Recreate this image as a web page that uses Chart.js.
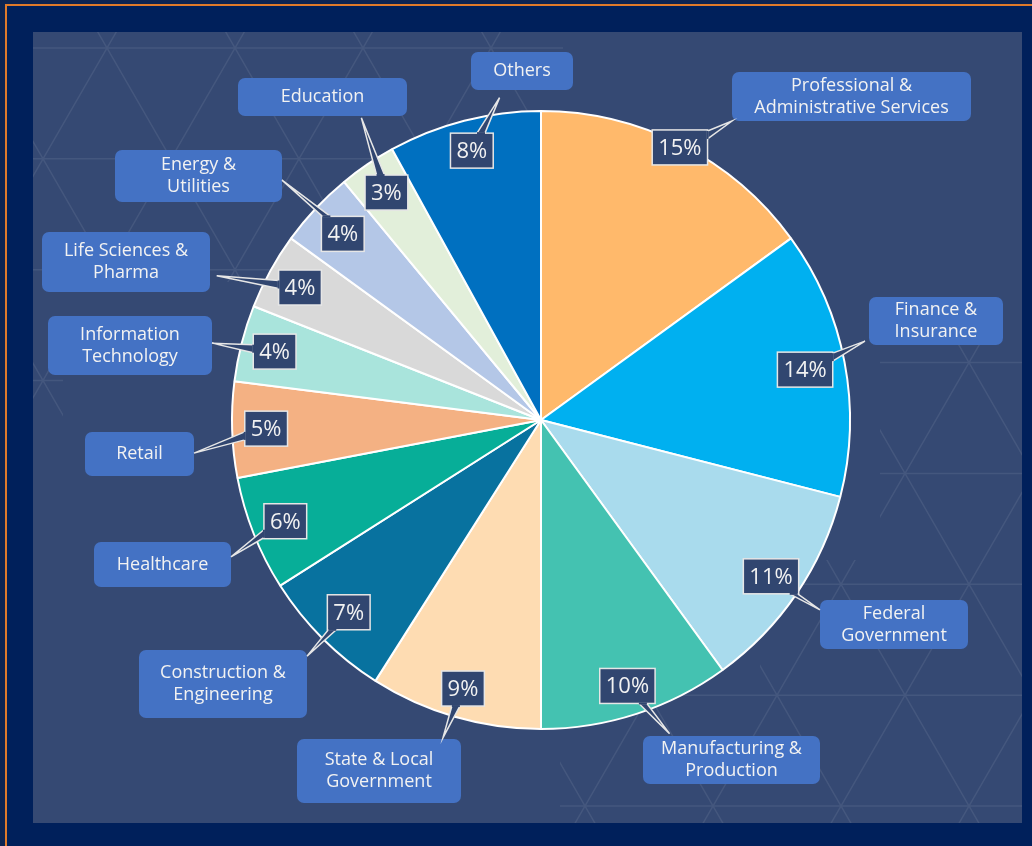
<!DOCTYPE html>
<html>
<head>
<meta charset="utf-8">
<script src="https://cdn.jsdelivr.net/npm/chart.js@4.4.1/dist/chart.umd.min.js"></script>
<style>
  html, body { margin: 0; padding: 0; background: #00205b; overflow: hidden; }
  #sectorChart { display: block; }
</style>
</head>
<body>
<canvas id="sectorChart" width="1032" height="846"></canvas>
<script>
const categories = [
  ["Professional &", "Administrative Services"],
  ["Finance &", "Insurance"],
  ["Federal", "Government"],
  ["Manufacturing &", "Production"],
  ["State & Local", "Government"],
  ["Construction &", "Engineering"],
  ["Healthcare"],
  ["Retail"],
  ["Information", "Technology"],
  ["Life Sciences &", "Pharma"],
  ["Energy &", "Utilities"],
  ["Education"],
  ["Others"],
];
const shares = [15, 14, 11, 10, 9, 7, 6, 5, 4, 4, 4, 3, 8];
const sliceColors = [
  "#ffb96b", "#00b0f0", "#a9dbed", "#44c2b1", "#fedcb2", "#08729f", "#07ae98",
  "#f4b183", "#a9e4dc", "#d9d9d9", "#b4c7e7", "#e2efda", "#0070c0",
];

// category boxes: centre offset from the pie centre, then width and height
const labelBoxes = [
  [310.5, -323.5, 239, 49],
  [395, -99, 134, 48],
  [353, 204.5, 148, 49],
  [190.5, 340, 177, 48],
  [-162, 351, 164, 64],
  [-318, 264, 168, 68],
  [-378.5, 144.5, 137, 45],
  [-401.5, 34, 109, 44],
  [-411, -74.5, 164, 59],
  [-415, -158, 168, 60],
  [-342.5, -244, 167, 52],
  [-218.5, -323, 169, 38],
  [-19, -349, 102, 38],
];
// where each pointer ends on its category box (fractions of box width / height)
const pointerTips = [
  [0, 1], [-0.03, 0.92], [0, 0.2], [0.15, -0.05], [0.89, -0.02], [1, 0.09], [1, 0.33],
  [1, 0.48], [1, 0.46], [1.04, 0.73], [1, 0.58], [0.73, 1.05], [0.28, 1.2],
];
// where the % box sits along each slice's middle, as a fraction of the radius
const valueRadius = [0.99, 0.87, 0.9, 0.905, 0.905, 0.88, 0.89, 0.89, 0.89, 0.89, 0.88, 0.89, 0.9];

const FONT = "'Open Sans', 'Noto Sans', sans-serif";

function roundRect(ctx, x, y, w, h, r) {
  ctx.beginPath();
  ctx.moveTo(x + r, y);
  ctx.arcTo(x + w, y, x + w, y + h, r);
  ctx.arcTo(x + w, y + h, x, y + h, r);
  ctx.arcTo(x, y + h, x, y, r);
  ctx.arcTo(x, y, x + w, y, r);
  ctx.closePath();
}

// faint triangle grid, clipped to a few patches of the panel
function drawLattice(ctx, x0, y0, side, rects) {
  const h = side * Math.sqrt(3) / 2;
  const k = 1 / Math.sqrt(3);
  ctx.save();
  ctx.beginPath();
  rects.forEach(([x, y, w, hh]) => ctx.rect(x, y, w, hh));
  ctx.clip();
  ctx.strokeStyle = "rgba(255,255,255,0.08)";
  ctx.lineWidth = 1.5;
  ctx.beginPath();
  for (let n = -10; n <= 10; n++) {
    const y = y0 + n * h;
    ctx.moveTo(0, y); ctx.lineTo(1032, y);
  }
  for (let m = -20; m <= 20; m++) {
    const c = x0 + m * side;
    // lines going down-right and down-left through row y0 vertices
    ctx.moveTo(c + (0 - y0) * k, 0); ctx.lineTo(c + (846 - y0) * k, 846);
    ctx.moveTo(c - (0 - y0) * k, 0); ctx.lineTo(c - (846 - y0) * k, 846);
  }
  ctx.stroke();
  ctx.restore();
}

const panelBackground = {
  id: "panelBackground",
  beforeDraw(chart) {
    const ctx = chart.ctx;
    ctx.save();
    ctx.fillStyle = "#00205b";
    ctx.fillRect(0, 0, 1032, 846);
    ctx.fillStyle = "#0d2452";
    ctx.fillRect(0, 0, 5, 846);
    ctx.fillRect(0, 0, 1032, 4);
    ctx.fillStyle = "#e07a2a";
    ctx.fillRect(5, 4, 2, 842);
    ctx.fillRect(5, 4, 1027, 2);
    ctx.fillStyle = "#354973";
    ctx.fillRect(33, 32, 989, 791);
    drawLattice(ctx, 107, 48, 128, [[33, 32, 530, 250], [33, 32, 30, 390]]);
    drawLattice(ctx, 713, 806, 128, [[760, 560, 262, 263], [880, 340, 142, 483], [560, 690, 462, 133]]);
    ctx.restore();
  },
};

const callouts = {
  id: "callouts",
  afterDatasetsDraw(chart) {
    const ctx = chart.ctx;
    const arcs = chart.getDatasetMeta(0).data;
    ctx.save();
    arcs.forEach((arc, i) => {
      const p = arc.getProps(["x", "y", "startAngle", "endAngle", "outerRadius"], true);
      const mid = (p.startAngle + p.endAngle) / 2;
      const r = p.outerRadius * valueRadius[i];
      const vx = p.x + Math.cos(mid) * r;
      const vy = p.y + Math.sin(mid) * r;

      // category box
      const [dx, dy, lw, lh] = labelBoxes[i];
      const lx = p.x + dx - lw / 2;
      const ly = p.y + dy - lh / 2;
      roundRect(ctx, lx, ly, lw, lh, 7);
      ctx.fillStyle = "#4472c4";
      ctx.fill();
      ctx.fillStyle = "#f2f2f2";
      ctx.font = "18px " + FONT;
      ctx.textAlign = "center";
      ctx.textBaseline = "middle";
      const lines = categories[i];
      const lineH = 22;
      lines.forEach((t, j) => {
        ctx.fillText(t, lx + lw / 2, ly + lh / 2 + (j - (lines.length - 1) / 2) * lineH);
      });

      // % box
      const text = shares[i] + "%";
      ctx.font = "22px " + FONT;
      const bw = ctx.measureText(text).width + 12;
      const bh = 35;
      const bx = vx - bw / 2;
      const by = vy - bh / 2;

      // pointer from the % box out to the category box
      const tx = lx + lw * pointerTips[i][0];
      const ty = ly + lh * pointerTips[i][1];
      const ux = tx - vx, uy = ty - vy;
      const sx = Math.abs(ux) > 0 ? (bw / 2) / Math.abs(ux) : Infinity;
      const sy = Math.abs(uy) > 0 ? (bh / 2) / Math.abs(uy) : Infinity;
      const s = Math.min(sx, sy);
      const ex = vx + ux * s, ey = vy + uy * s;
      let b1, b2;
      if (sx < sy) {
        const yy = Math.min(Math.max(ey, by + 5), by + bh - 5);
        b1 = [ex, yy - 4]; b2 = [ex, yy + 4];
      } else {
        const xx = Math.min(Math.max(ex, bx + 5), bx + bw - 5);
        b1 = [xx - 4, ey]; b2 = [xx + 4, ey];
      }

      const boxFill = "#314670";
      ctx.fillStyle = boxFill;
      ctx.fillRect(bx, by, bw, bh);
      ctx.beginPath();
      ctx.moveTo(b1[0], b1[1]); ctx.lineTo(tx, ty); ctx.lineTo(b2[0], b2[1]);
      ctx.closePath();
      ctx.fill();

      ctx.strokeStyle = "#e6e6e6";
      ctx.lineWidth = 1.5;
      ctx.strokeRect(bx, by, bw, bh);
      ctx.beginPath();
      ctx.moveTo(b1[0], b1[1]); ctx.lineTo(tx, ty); ctx.lineTo(b2[0], b2[1]);
      ctx.stroke();
      // open the box outline where the pointer joins it
      ctx.strokeStyle = boxFill;
      ctx.lineWidth = 2;
      ctx.beginPath();
      ctx.moveTo(b1[0], b1[1]); ctx.lineTo(b2[0], b2[1]);
      ctx.stroke();

      ctx.fillStyle = "#f2f2f2";
      ctx.font = "22px " + FONT;
      ctx.fillText(text, vx, vy + 1);
    });
    ctx.restore();
  },
};

new Chart(document.getElementById("sectorChart").getContext("2d"), {
  type: "pie",
  data: {
    labels: categories,
    datasets: [{
      data: shares,
      backgroundColor: sliceColors,
      borderColor: "#ffffff",
      borderWidth: 2,
    }],
  },
  options: {
    responsive: false,
    animation: false,
    layout: { padding: { left: 231, right: 181, top: 110, bottom: 116 } },
    plugins: {
      legend: { display: false },
      tooltip: { enabled: false },
    },
  },
  plugins: [panelBackground, callouts],
});
</script>
</body>
</html>
